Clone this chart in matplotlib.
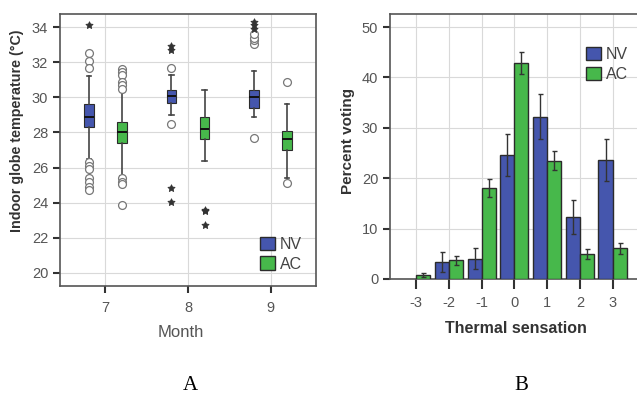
import matplotlib
matplotlib.use("Agg")
import matplotlib.pyplot as plt
from matplotlib.patches import Patch

plt.rcParams["font.family"] = ["Liberation Sans", "DejaVu Sans"]
plt.rcParams["axes.unicode_minus"] = False

# Panel A: indoor globe temperature by month
months = [7, 8, 9]
nv_stats = [  # q1, median, q3, whisker low, whisker high
    (28.3, 28.9, 29.6, 26.5, 31.2),
    (29.65, 30.1, 30.4, 29.0, 31.3),
    (29.4, 30.0, 30.4, 28.9, 31.5),
]
ac_stats = [
    (27.4, 28.0, 28.6, 25.5, 30.4),
    (27.6, 28.2, 28.9, 26.4, 30.4),
    (27.0, 27.65, 28.1, 25.4, 29.6),
]
nv_circles = [
    [32.5, 32.1, 31.7, 26.3, 26.1, 25.9, 25.4, 25.2, 24.9, 24.7],
    [31.7, 28.5],
    [33.05, 33.25, 33.4, 33.6, 27.7],
]
nv_stars = [[34.1], [32.9, 32.7, 24.85, 24.05], [33.9, 34.1, 34.3]]
ac_circles = [
    [31.6, 31.45, 31.3, 30.9, 30.7, 30.5, 25.4, 25.2, 25.05, 23.85],
    [],
    [30.9, 25.1],
]
ac_stars = [[], [23.6, 23.5, 22.75], []]

# Panel B: thermal sensation votes
sensation = [-3, -2, -1, 0, 1, 2, 3]
nv_pct = [0.0, 3.3, 4.0, 24.6, 32.2, 12.3, 23.6]
nv_err = [0.0, 2.0, 2.1, 4.1, 4.5, 3.4, 4.1]
ac_pct = [0.7, 3.7, 18.1, 42.9, 23.5, 5.0, 6.1]
ac_err = [0.4, 0.9, 1.8, 2.2, 1.9, 1.0, 1.1]

nv_color = "#4556ad"
ac_color = "#47b84b"
edge = "#2b2b2b"
grid_c = "#d9d9d9"
tick_c = "#555555"
label_c = "#333333"

fig = plt.figure(figsize=(6.37, 3.96), dpi=100)

# ---------------- Panel A ----------------
axA = fig.add_axes([60 / 637, 1 - 286 / 396, 256 / 637, 272 / 396])
offset = 0.2
bw = 0.115
for group, stats, circ, stars, color, sgn in [
    ("NV", nv_stats, nv_circles, nv_stars, nv_color, -1),
    ("AC", ac_stats, ac_circles, ac_stars, ac_color, 1),
]:
    bxp = []
    for q1, med, q3, lo, hi in stats:
        bxp.append(dict(q1=q1, med=med, q3=q3, whislo=lo, whishi=hi, fliers=[]))
    pos = [m + sgn * offset for m in months]
    axA.bxp(bxp, positions=pos, widths=bw, patch_artist=True, showfliers=False,
            boxprops=dict(facecolor=color, edgecolor=edge, linewidth=0.8),
            medianprops=dict(color="#111111", linewidth=1.4),
            whiskerprops=dict(color="#444444", linewidth=1.2),
            capprops=dict(color="#444444", linewidth=1.2), capwidths=0.05,
            manage_ticks=False, zorder=3)
    for p, vals in zip(pos, circ):
        axA.scatter([p] * len(vals), vals, s=32, facecolors="white",
                    edgecolors="#777777", linewidths=0.9, zorder=4)
    for p, vals in zip(pos, stars):
        axA.scatter([p] * len(vals), vals, s=30, marker=(5, 1, 0),
                    color="#333333", linewidths=0.5, zorder=4)

axA.set_xlim(6.45, 9.55)
axA.set_ylim(19.25, 34.75)
axA.set_xticks(months)
axA.set_yticks(range(20, 35, 2))
axA.grid(True, color=grid_c, linewidth=0.8)
axA.set_axisbelow(True)
for s in axA.spines.values():
    s.set_color("#555555")
    s.set_linewidth(1.2)
axA.tick_params(labelcolor=tick_c, color="#333333", labelsize=10.5, length=5, width=1.5)
axA.tick_params(axis="x", pad=6)
axA.set_xlabel("Month", color="#555555", fontsize=12)
axA.xaxis.set_label_coords(0.473, -0.143)
axA.set_ylabel("Indoor globe temperature (°C)", fontsize=10.3,
               fontweight="bold", color=label_c)
axA.yaxis.set_label_coords(-0.14, 0.57)
handles = [Patch(facecolor=nv_color, edgecolor=edge, label="NV"),
           Patch(facecolor=ac_color, edgecolor=edge, label="AC")]
axA.legend(handles=handles, loc="lower right", frameon=False, fontsize=11.5,
           handlelength=0.9, handleheight=0.9, handletextpad=0.3,
           labelspacing=0.3, borderaxespad=0.5, labelcolor="#444444")

# ---------------- Panel B ----------------
axB = fig.add_axes([390 / 637, 1 - 279 / 396, 252 / 637, 265 / 396])
w = 0.43
xs_nv = [x - w / 2 for x in sensation]
xs_ac = [x + w / 2 for x in sensation]
err_kw = dict(ecolor="#333333", elinewidth=1.0, capsize=1.8, capthick=1.0)
nv_x = [x for x, v in zip(xs_nv, nv_pct) if v > 0]
nv_v = [v for v in nv_pct if v > 0]
nv_e = [e for e, v in zip(nv_err, nv_pct) if v > 0]
axB.bar(nv_x, nv_v, width=w, color=nv_color, edgecolor=edge, linewidth=1.0,
        yerr=nv_e, error_kw=err_kw, zorder=3, label="NV")
axB.bar(xs_ac, ac_pct, width=w, color=ac_color, edgecolor=edge, linewidth=1.0,
        yerr=ac_err, error_kw=err_kw, zorder=3, label="AC")
axB.set_xlim(-3.8, 3.9)
axB.set_ylim(0, 52.6)
axB.set_xticks(sensation)
axB.set_yticks(range(0, 51, 10))
axB.grid(True, color=grid_c, linewidth=0.8)
axB.set_axisbelow(True)
for s in axB.spines.values():
    s.set_color("#555555")
    s.set_linewidth(1.2)
axB.spines["right"].set_visible(False)
axB.tick_params(labelcolor=tick_c, color="#333333", labelsize=10.5, length=5, width=1.5)
axB.tick_params(axis="x", length=7, pad=5)
axB.set_xlabel("Thermal sensation", fontsize=11.5, fontweight="bold",
               color=label_c, labelpad=8)
axB.set_ylabel("Percent voting", fontsize=11, fontweight="bold",
               color=label_c)
axB.yaxis.set_label_coords(-0.139, 0.52)
axB.legend(loc="upper right", bbox_to_anchor=(1.0, 0.93), frameon=False,
           fontsize=11.5, handlelength=0.9, handleheight=0.9,
           handletextpad=0.3, labelspacing=0.3, labelcolor="#444444")

fig.text(190 / 637, 1 - 385 / 396, "A", family="Liberation Serif", fontsize=15,
         ha="center", va="center")
fig.text(521 / 637, 1 - 385 / 396, "B", family="Liberation Serif", fontsize=15,
         ha="center", va="center")

fig.savefig("out.png", dpi=100)
